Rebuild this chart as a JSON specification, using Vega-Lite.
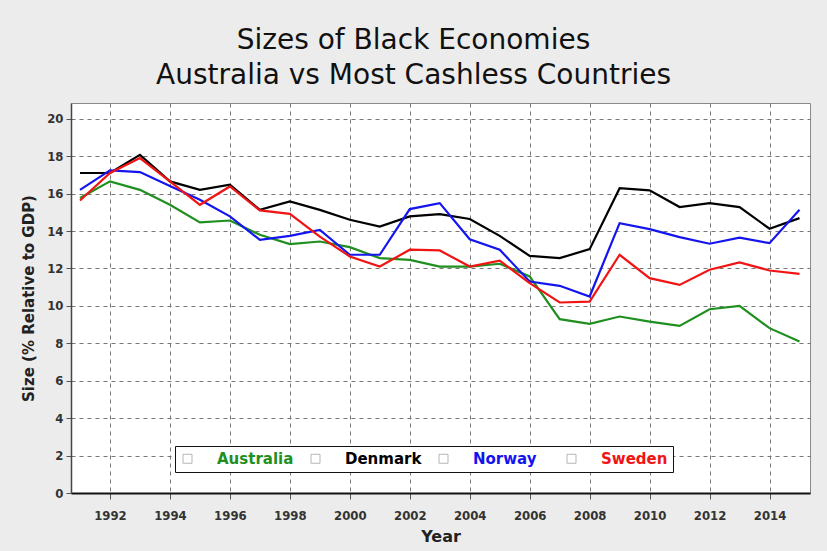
{
  "$schema": "https://vega.github.io/schema/vega-lite/v6.json",
  "width": 739,
  "height": 390,
  "autosize": {"type": "none"},
  "padding": {"left": 71, "top": 103, "right": 17, "bottom": 58},
  "background": "#ececec",
  "title": {
    "text": ["Sizes of Black Economies", "Australia vs Most Cashless Countries"],
    "font": "DejaVu Sans",
    "fontSize": 28,
    "fontWeight": "normal",
    "color": "#111111",
    "lineHeight": 35,
    "anchor": "middle",
    "dx": -27,
    "offset": 13
  },
  "config": {
    "view": {"stroke": "#8a8a8a", "strokeWidth": 1, "fill": "white"},
    "axis": {
      "labelFont": "DejaVu Sans Condensed",
      "labelFontWeight": "bold",
      "labelFontSize": 13,
      "labelColor": "#333333",
      "titleFont": "DejaVu Sans",
      "titleFontWeight": "bold",
      "titleColor": "#222222",
      "gridColor": "#777777",
      "gridDash": [4, 4],
      "gridWidth": 1,
      "domainColor": "#111111",
      "tickColor": "#555555"
    }
  },
  "data": {
    "values": [
      {"year": 1991, "country": "Australia", "value": 15.76},
      {"year": 1992, "country": "Australia", "value": 16.65},
      {"year": 1993, "country": "Australia", "value": 16.2},
      {"year": 1994, "country": "Australia", "value": 15.4},
      {"year": 1995, "country": "Australia", "value": 14.46},
      {"year": 1996, "country": "Australia", "value": 14.56},
      {"year": 1997, "country": "Australia", "value": 13.8},
      {"year": 1998, "country": "Australia", "value": 13.3},
      {"year": 1999, "country": "Australia", "value": 13.44},
      {"year": 2000, "country": "Australia", "value": 13.14},
      {"year": 2001, "country": "Australia", "value": 12.55},
      {"year": 2002, "country": "Australia", "value": 12.46},
      {"year": 2003, "country": "Australia", "value": 12.1},
      {"year": 2004, "country": "Australia", "value": 12.1},
      {"year": 2005, "country": "Australia", "value": 12.25},
      {"year": 2006, "country": "Australia", "value": 11.57},
      {"year": 2007, "country": "Australia", "value": 9.29},
      {"year": 2008, "country": "Australia", "value": 9.04},
      {"year": 2009, "country": "Australia", "value": 9.43},
      {"year": 2010, "country": "Australia", "value": 9.16},
      {"year": 2011, "country": "Australia", "value": 8.93},
      {"year": 2012, "country": "Australia", "value": 9.82},
      {"year": 2013, "country": "Australia", "value": 10.0},
      {"year": 2014, "country": "Australia", "value": 8.81},
      {"year": 2015, "country": "Australia", "value": 8.09},
      {"year": 1991, "country": "Denmark", "value": 17.1},
      {"year": 1992, "country": "Denmark", "value": 17.1},
      {"year": 1993, "country": "Denmark", "value": 18.07},
      {"year": 1994, "country": "Denmark", "value": 16.65},
      {"year": 1995, "country": "Denmark", "value": 16.2},
      {"year": 1996, "country": "Denmark", "value": 16.47},
      {"year": 1997, "country": "Denmark", "value": 15.13},
      {"year": 1998, "country": "Denmark", "value": 15.58},
      {"year": 1999, "country": "Denmark", "value": 15.13},
      {"year": 2000, "country": "Denmark", "value": 14.6},
      {"year": 2001, "country": "Denmark", "value": 14.24},
      {"year": 2002, "country": "Denmark", "value": 14.78},
      {"year": 2003, "country": "Denmark", "value": 14.9},
      {"year": 2004, "country": "Denmark", "value": 14.64},
      {"year": 2005, "country": "Denmark", "value": 13.74},
      {"year": 2006, "country": "Denmark", "value": 12.67},
      {"year": 2007, "country": "Denmark", "value": 12.55},
      {"year": 2008, "country": "Denmark", "value": 13.03},
      {"year": 2009, "country": "Denmark", "value": 16.29},
      {"year": 2010, "country": "Denmark", "value": 16.17},
      {"year": 2011, "country": "Denmark", "value": 15.28},
      {"year": 2012, "country": "Denmark", "value": 15.49},
      {"year": 2013, "country": "Denmark", "value": 15.28},
      {"year": 2014, "country": "Denmark", "value": 14.12},
      {"year": 2015, "country": "Denmark", "value": 14.69},
      {"year": 1991, "country": "Norway", "value": 16.2},
      {"year": 1992, "country": "Norway", "value": 17.24},
      {"year": 1993, "country": "Norway", "value": 17.15},
      {"year": 1994, "country": "Norway", "value": 16.4},
      {"year": 1995, "country": "Norway", "value": 15.67},
      {"year": 1996, "country": "Norway", "value": 14.78},
      {"year": 1997, "country": "Norway", "value": 13.53},
      {"year": 1998, "country": "Norway", "value": 13.74},
      {"year": 1999, "country": "Norway", "value": 14.06},
      {"year": 2000, "country": "Norway", "value": 12.73},
      {"year": 2001, "country": "Norway", "value": 12.73},
      {"year": 2002, "country": "Norway", "value": 15.17},
      {"year": 2003, "country": "Norway", "value": 15.49},
      {"year": 2004, "country": "Norway", "value": 13.56},
      {"year": 2005, "country": "Norway", "value": 13.0},
      {"year": 2006, "country": "Norway", "value": 11.3},
      {"year": 2007, "country": "Norway", "value": 11.07},
      {"year": 2008, "country": "Norway", "value": 10.5},
      {"year": 2009, "country": "Norway", "value": 14.42},
      {"year": 2010, "country": "Norway", "value": 14.1},
      {"year": 2011, "country": "Norway", "value": 13.67},
      {"year": 2012, "country": "Norway", "value": 13.32},
      {"year": 2013, "country": "Norway", "value": 13.65},
      {"year": 2014, "country": "Norway", "value": 13.35},
      {"year": 2015, "country": "Norway", "value": 15.13},
      {"year": 1991, "country": "Sweden", "value": 15.63},
      {"year": 1992, "country": "Sweden", "value": 17.1},
      {"year": 1993, "country": "Sweden", "value": 17.9},
      {"year": 1994, "country": "Sweden", "value": 16.65},
      {"year": 1995, "country": "Sweden", "value": 15.4},
      {"year": 1996, "country": "Sweden", "value": 16.38},
      {"year": 1997, "country": "Sweden", "value": 15.1},
      {"year": 1998, "country": "Sweden", "value": 14.92},
      {"year": 1999, "country": "Sweden", "value": 13.7},
      {"year": 2000, "country": "Sweden", "value": 12.64},
      {"year": 2001, "country": "Sweden", "value": 12.1},
      {"year": 2002, "country": "Sweden", "value": 13.0},
      {"year": 2003, "country": "Sweden", "value": 12.96},
      {"year": 2004, "country": "Sweden", "value": 12.1},
      {"year": 2005, "country": "Sweden", "value": 12.42},
      {"year": 2006, "country": "Sweden", "value": 11.21},
      {"year": 2007, "country": "Sweden", "value": 10.18},
      {"year": 2008, "country": "Sweden", "value": 10.23},
      {"year": 2009, "country": "Sweden", "value": 12.73},
      {"year": 2010, "country": "Sweden", "value": 11.48},
      {"year": 2011, "country": "Sweden", "value": 11.12},
      {"year": 2012, "country": "Sweden", "value": 11.93},
      {"year": 2013, "country": "Sweden", "value": 12.32},
      {"year": 2014, "country": "Sweden", "value": 11.89},
      {"year": 2015, "country": "Sweden", "value": 11.71}
    ]
  },
  "encoding": {
    "x": {
      "field": "year",
      "type": "quantitative",
      "scale": {"domain": [1990.7, 2015.35], "nice": false, "zero": false},
      "axis": {
        "values": [1992, 1994, 1996, 1998, 2000, 2002, 2004, 2006, 2008, 2010, 2012, 2014],
        "format": "d",
        "title": "Year",
        "titleFontSize": 16,
        "titlePadding": 6,
        "labelPadding": 10,
        "tickSize": 6,
        "domainWidth": 2
      }
    },
    "y": {
      "field": "value",
      "type": "quantitative",
      "scale": {"domain": [0, 20.84], "nice": false},
      "axis": {
        "values": [0, 2, 4, 6, 8, 10, 12, 14, 16, 18, 20],
        "title": "Size (% Relative to GDP)",
        "titleFontSize": 15,
        "titlePadding": 10,
        "labelPadding": 3,
        "tickSize": 5,
        "domainWidth": 1.5,
        "domainColor": "#444444"
      }
    }
  },
  "layer": [
    {
      "mark": {"type": "line", "strokeWidth": 2.2},
      "encoding": {
        "color": {
          "field": "country",
          "type": "nominal",
          "scale": {
            "domain": ["Australia", "Denmark", "Norway", "Sweden"],
            "range": ["#1f8f1f", "#000000", "#1414f0", "#f01414"]
          },
          "legend": null
        }
      }
    },
    {
      "mark": {"type": "point", "size": 0, "color": "#999999", "filled": false, "strokeWidth": 1},
      "encoding": {
        "shape": {
          "field": "country",
          "type": "nominal",
          "scale": {"range": ["square", "square", "square", "square"]},
          "legend": {
            "title": null,
            "orient": "none",
            "legendX": 104,
            "legendY": 343,
            "direction": "horizontal",
            "columns": 4,
            "gridAlign": "all",
            "fillColor": "white",
            "strokeColor": "#111111",
            "padding": 5,
            "symbolSize": 81,
            "symbolStrokeColor": "#999999",
            "symbolFillColor": "white",
            "symbolStrokeWidth": 1,
            "labelFont": "DejaVu Sans",
            "labelFontSize": 15,
            "labelFontWeight": "bold",
            "labelColor": {"expr": "scale('color', datum.value)"},
            "labelOffset": 22,
            "columnPadding": 14,
            "encode": {
              "legend": {"update": {"strokeWidth": {"value": 2}}}
            }
          }
        }
      }
    }
  ]
}
